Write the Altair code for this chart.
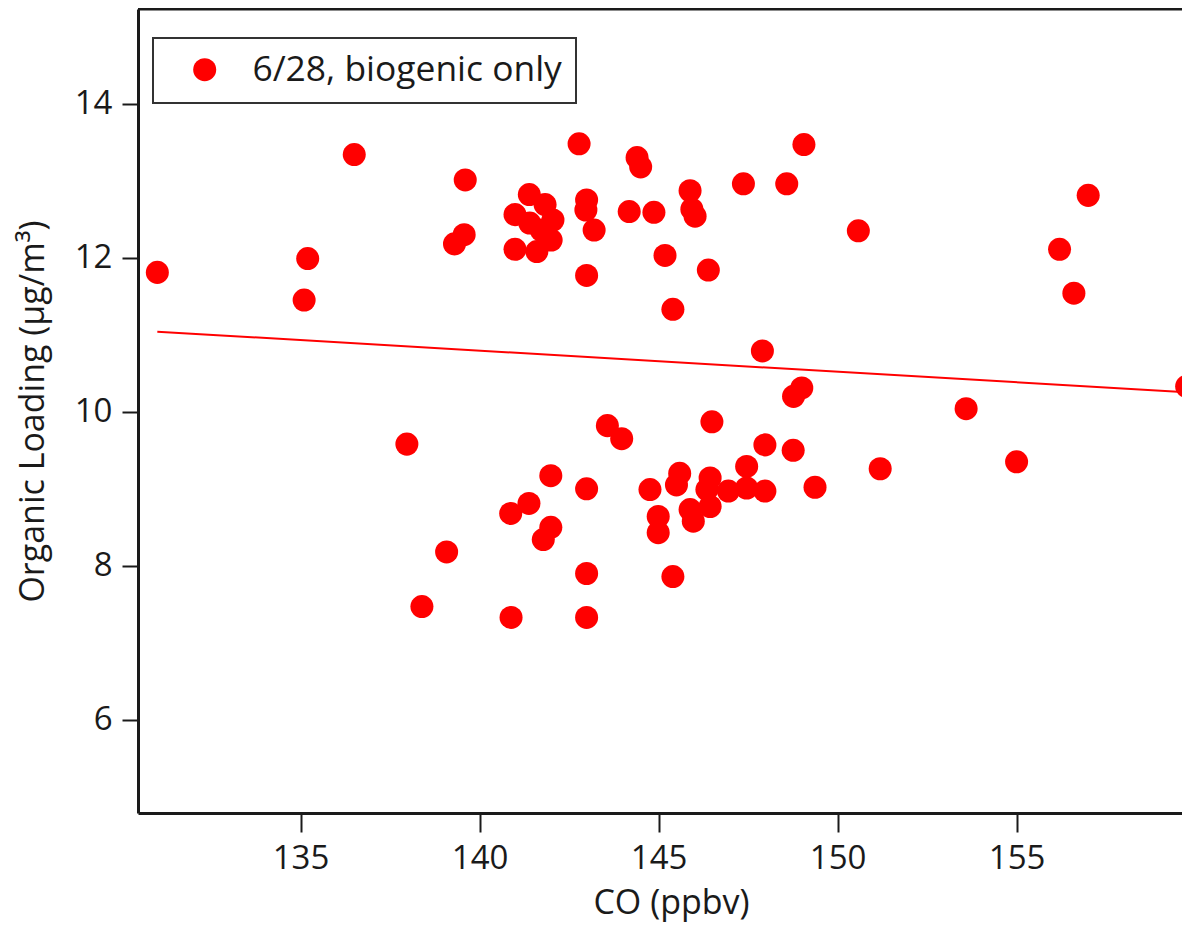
import altair as alt
import pandas as pd

# CO (ppbv) and organic loading (ug/m3)
co = [131.0, 136.5, 135.2, 135.1, 139.6, 139.57, 139.3, 142.78,
      141.39, 141.83, 140.99, 142.05, 141.72, 142.0, 140.99, 141.6, 141.4,
      142.99, 142.97, 143.2, 142.99, 144.4, 144.5, 144.18, 144.87, 145.18,
      145.4, 145.88, 145.93, 146.02, 146.39, 147.37, 148.58, 149.06, 150.58,
      147.9, 149.0, 148.77, 157.0, 156.2, 156.6, 159.75, 153.59, 151.19, 155.0,
      137.97, 139.08, 138.39, 140.88, 142.99, 142.99, 140.87, 141.38, 141.99,
      142.99, 141.99, 141.78, 143.57, 143.97, 146.49, 147.97, 148.76, 149.37,
      144.76, 145.59, 145.5, 146.44, 146.95, 147.46, 147.97, 146.44, 145.88,
      145.97, 146.35, 147.46, 144.99, 144.99, 145.4]
org = [11.81, 13.34, 11.99, 11.45, 13.01, 12.30, 12.18, 13.48,
       12.82, 12.69, 12.56, 12.49, 12.36, 12.23, 12.11, 12.08, 12.45,
       12.75, 12.62, 12.36, 11.77, 13.30, 13.18, 12.60, 12.59, 12.03,
       11.33, 12.87, 12.63, 12.54, 11.84, 12.96, 12.96, 13.47, 12.35,
       10.79, 10.31, 10.20, 12.81, 12.11, 11.54, 10.33, 10.04, 9.26, 9.35,
       9.58, 8.18, 7.47, 7.33, 7.33, 7.90, 8.68, 8.81, 9.17,
       9.00, 8.50, 8.34, 9.82, 9.65, 9.87, 9.57, 9.50, 9.02,
       8.99, 9.20, 9.05, 9.14, 8.97, 9.29, 8.97, 8.77, 8.73,
       8.58, 8.99, 9.01, 8.64, 8.43, 7.86]
series_name = "6/28, biogenic only"

# linear fit line end points
fit_co = [131.0, 159.85]
fit_org = [11.04, 10.25]

x_ticks = [135, 140, 145, 150, 155]
y_ticks = [6, 8, 10, 12, 14]

W, H = 1044, 804
FONT = "Open Sans"
INK = "#1a1a1a"

pts = pd.DataFrame({"co": co, "org": org, "series": [series_name] * len(co)})
fit = pd.DataFrame({"co": fit_co, "org": fit_org})
frame = pd.DataFrame({"k": [0]})

xs = alt.Scale(domain=[130.46, 159.62], nice=False, zero=False)
ys = alt.Scale(domain=[4.79, 15.23], nice=False, zero=False)

xaxis = alt.Axis(values=x_ticks, title="CO (ppbv)", grid=False, format="d",
                 tickSize=19, tickWidth=2, tickColor=INK,
                 domainColor=INK, domainWidth=3,
                 labelFont=FONT, labelFontSize=33, labelColor=INK, labelPadding=10,
                 titleFont=FONT, titleFontSize=34, titleFontWeight="normal",
                 titleColor=INK, titleBaseline="alphabetic", titleY=100, titleX=533)
yaxis = alt.Axis(values=y_ticks, title="Organic Loading (µg/m³)", grid=False, format="d",
                 tickSize=16, tickWidth=2, tickColor=INK,
                 domainColor=INK, domainWidth=3,
                 labelFont=FONT, labelFontSize=33, labelColor=INK, labelPadding=10,
                 titleFont=FONT, titleFontSize=34, titleFontWeight="normal",
                 titleColor=INK, titleBaseline="alphabetic", titleX=-95)

line = alt.Chart(fit).mark_line(color="#ff0000", strokeWidth=2, clip=True).encode(
    x=alt.X("co:Q", scale=xs, axis=xaxis),
    y=alt.Y("org:Q", scale=ys, axis=yaxis),
)

points = alt.Chart(pts).mark_circle(size=530, opacity=1, clip=True).encode(
    x=alt.X("co:Q", scale=xs),
    y=alt.Y("org:Q", scale=ys),
    color=alt.Color("series:N", scale=alt.Scale(range=["#ff0000"]),
                    legend=alt.Legend(orient="none", legendX=15, legendY=29, title=None,
                                      labelFont=FONT, labelFontSize=35.4, labelColor=INK,
                                      labelLimit=1000,
                                      symbolSize=530, symbolType="circle",
                                      symbolStrokeWidth=0, symbolOpacity=1,
                                      padding=14, strokeColor="#333", fillColor="white",
                                      labelOffset=30, symbolOffset=20)),
)

top = alt.Chart(frame).mark_rule(color=INK, strokeWidth=3).encode(
    x=alt.value(0), x2=alt.value(W), y=alt.value(0)
)

chart = alt.layer(line, points, top).properties(
    width=W, height=H,
    autosize=alt.AutoSizeParams(type="none"),
    padding={"left": 130, "top": 1, "right": 0, "bottom": 111},
).configure_view(strokeWidth=0).configure_legend(strokeWidth=2)

chart.save("out.html", embed_options={"renderer": "svg", "actions": False})
